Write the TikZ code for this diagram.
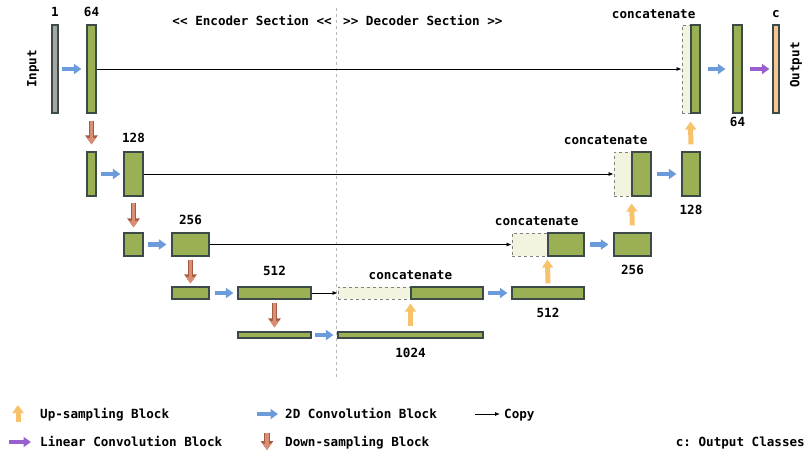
\documentclass[tikz,border=0pt]{standalone}
\usepackage{fontspec}
\setmonofont{DejaVu Sans Mono}
\usetikzlibrary{positioning, arrows.meta, calc}

\definecolor{blkgreen}{HTML}{9BB055}
\definecolor{blkedge}{HTML}{3C4A48}
\definecolor{ingray}{HTML}{A6A6A6}
\definecolor{outorange}{HTML}{F6C392}
\definecolor{catfill}{HTML}{F3F4E0}
\definecolor{convblue}{HTML}{6C9BDB}
\definecolor{upyellow}{HTML}{F6C36B}
\definecolor{downbrown}{HTML}{D98E76}
\definecolor{downedge}{HTML}{A65A42}
\definecolor{linpurple}{HTML}{9A5FCF}

\begin{document}
\begin{tikzpicture}[
    x=1pt, y=-1pt,
    font=\fontsize{12.6}{14}\selectfont\ttfamily\bfseries,
    block/.style={
        rectangle,
        draw=blkedge,
        fill=blkgreen,
        line width=1.2pt,
        inner sep=0pt
    },
    inblock/.style={block, fill=ingray},
    outblock/.style={block, fill=outorange},
    catblock/.style={ % copied half of a concatenation
        rectangle,
        draw=gray,
        dashed,
        fill=catfill,
        line width=0.9pt,
        inner sep=0pt
    },
    conv/.style={
        -{Triangle[length=7.5pt,width=10pt]},
        line width=4.8pt,
        convblue,
        shorten <=4pt,
        shorten >=4pt
    },
    linconv/.style={conv, linpurple},
    up/.style={
        -{Triangle[length=8pt,width=11pt]},
        line width=5pt,
        upyellow,
        shorten <=4pt,
        shorten >=4pt
    },
    down/.style={ % outlined arrow
        -{Triangle[length=6.5pt,width=9pt]},
        line width=3.6pt,
        downbrown,
        preaction={
            draw=downedge,
            line width=5.6pt,
            -{Triangle[length=9pt,width=12pt]}
        },
        shorten <=3pt,
        shorten >=3pt
    },
    copy/.style={
        -{Latex[length=5pt,width=4pt]},
        line width=0.8pt,
        black
    },
    lbl/.style={inner sep=0pt}
]
    \useasboundingbox (0,0) rectangle (808,451);

    % Section headings and divider
    \node[lbl, anchor=base east] (enc) at (332,25) {<< Encoder Section <<};
    \node[lbl, anchor=base west] (dec) at (343,25) {>> Decoder Section >>};
    \draw[gray!55, dashed, line width=0.8pt] (336,8) -- (336,380);

    % Encoder, 1st level
    \node[inblock, minimum width=6, minimum height=88] (inp) at (55,69) {};
    \node[block, minimum width=9, minimum height=88] (e1b) at (91.5,69) {};
    \draw[conv, shorten <=3pt, shorten >=5pt] (inp) -- (e1b);
    \node[lbl, anchor=base] (l1) at ($(inp.north)+(0,-7.5)$) {1};
    \node[lbl, anchor=base] (l64a) at ($(e1b.north)+(0,-7.5)$) {64};
    \node[lbl, rotate=90] (inpt) at (33,69) {Input};

    % Encoder, 2nd level
    \node[block, minimum width=9, minimum height=44] (e2a) at (91.5,174) {};
    \node[block, minimum width=19, minimum height=44] (e2b) at (133.5,174) {};
    \draw[down, shorten <=7pt, shorten >=7pt] (e1b) -- (e2a);
    \draw[conv, shorten >=3pt] (e2a) -- (e2b);
    \node[lbl, anchor=base] (l128a) at ($(e2b.north)+(0,-8.5)$) {128};

    % Encoder, 3rd level
    \node[block, minimum width=19, minimum height=23] (e3a) at (133.5,244.5) {};
    \node[block, minimum width=37, minimum height=23] (e3b) at (190.5,244.5) {};
    \draw[down, shorten <=6pt, shorten >=5pt] (e2b) -- (e3a);
    \draw[conv, shorten >=5pt] (e3a) -- (e3b);
    \node[lbl, anchor=base] (l256a) at ($(e3b.north)+(0,-7.5)$) {256};

    % Encoder, 4th level
    \node[block, minimum width=37, minimum height=12] (e4a) at (190.5,293) {};
    \node[block, minimum width=73, minimum height=12] (e4b) at (274.5,293) {};
    \draw[down] (e3b) -- (e4a);
    \draw[conv, shorten <=5pt] (e4a) -- (e4b);
    \node[lbl, anchor=base] (l512a) at ($(e4b.north)+(0,-11)$) {512};

    % Bottleneck
    \node[block, minimum width=73, minimum height=6] (e5a) at (274.5,335) {};
    \node[block, minimum width=145, minimum height=6] (e5b) at (410.5,335) {};
    \draw[down, shorten >=4pt] (e4b) -- (e5a);
    \draw[conv, shorten <=3pt] (e5a) -- (e5b);
    \node[lbl, anchor=base] (l1024) at ($(e5b.south)+(0,19)$) {1024};

    % Decoder, 4th level
    \node[catblock, minimum width=73, minimum height=12] (d4c) at (374.5,293) {};
    \node[block, minimum width=72, minimum height=12] (d4u) at (447,293) {};
    \node[block, minimum width=72, minimum height=12] (d4b) at (548,293) {};
    \draw[up, shorten <=5pt] (e5b.north) -- (e5b.north |- d4u.south);
    \draw[conv] (d4u) -- (d4b);
    \draw[copy] (e4b) -- (d4c);
    \node[lbl, anchor=base] (cat4) at ($(d4u.north west)+(0,-7)$) {concatenate};
    \node[lbl, anchor=base] (l512b) at ($(d4b.south)+(0,18)$) {512};

    % Decoder, 3rd level
    \node[catblock, minimum width=36, minimum height=23] (d3c) at (530,244.5) {};
    \node[block, minimum width=36, minimum height=23] (d3u) at (566,244.5) {};
    \node[block, minimum width=37, minimum height=23] (d3b) at (632.5,244.5) {};
    \draw[up, shorten <=3pt, shorten >=3pt] (d4b.north) -- (d3u.south west);
    \draw[conv, shorten <=5pt, shorten >=5pt] (d3u) -- (d3b);
    \draw[copy] (e3b) -- (d3c);
    \node[lbl, anchor=base east] (cat3) at ($(d3u.north east)+(-6,-7)$) {concatenate};
    \node[lbl, anchor=base] (l256b) at ($(d3b.south)+(0,18)$) {256};

    % Decoder, 2nd level
    \node[catblock, minimum width=18, minimum height=44] (d2c) at (623,174) {};
    \node[block, minimum width=19, minimum height=44] (d2u) at (641.5,174) {};
    \node[block, minimum width=18, minimum height=44] (d2b) at (691,174) {};
    \draw[up, shorten <=7pt, shorten >=7pt] (d3b.north) -- (d2u.south west);
    \draw[conv, shorten <=5pt, shorten >=5pt] (d2u) -- (d2b);
    \draw[copy] (e2b) -- (d2c);
    \node[lbl, anchor=base east] (cat2) at ($(d2u.north east)+(-4,-6.5)$) {concatenate};
    \node[lbl, anchor=base] (l128b) at ($(d2b.south)+(0,18)$) {128};

    % Decoder, 1st level
    \node[catblock, minimum width=9, minimum height=88] (d1c) at (686.5,69) {};
    \node[block, minimum width=9, minimum height=88] (d1u) at (695.5,69) {};
    \node[block, minimum width=9, minimum height=88] (d1b) at (737.5,69) {};
    \node[outblock, minimum width=6, minimum height=88] (out) at (776,69) {};
    \draw[up, shorten <=7pt, shorten >=8pt] (d2b.north) -- (d1u.south west);
    \draw[conv, shorten <=7pt, shorten >=7pt] (d1u) -- (d1b);
    \draw[linconv, shorten <=7pt, shorten >=3pt] (d1b) -- (out);
    \draw[copy] (e1b) -- (d1c);
    \node[lbl, anchor=base east] (cat1) at ($(d1u.north east)+(-5,-6)$) {concatenate};
    \node[lbl, anchor=base] (l64b) at ($(d1b.south)+(0,13)$) {64};
    \node[lbl, anchor=base] (lc) at ($(out.north)+(0,-7)$) {c};
    \node[lbl, rotate=90] (outt) at (796,65) {Output};

    % Legend
    \node[lbl, anchor=base west] (lgup) at (40,418) {Up-sampling Block};
    \node[lbl, anchor=base west] (lgconv) at (285,418) {2D Convolution Block};
    \node[lbl, anchor=base west] (lgcopy) at (504,418) {Copy};
    \node[lbl, anchor=base west] (lglin) at (40,446) {Linear Convolution Block};
    \node[lbl, anchor=base west] (lgdown) at (285,446) {Down-sampling Block};
    \node[lbl, anchor=base east] (lgcls) at (805,446) {c: Output Classes};
    \draw[up, shorten <=0pt, shorten >=0pt] ($(lgup.base west)+(-22,4)$) -- ++(0,-17);
    \draw[conv, shorten <=0pt, shorten >=0pt] ($(lgconv.base west)+(-28,-4)$) -- ++(21,0);
    \draw[copy] ($(lgcopy.base west)+(-29,-4)$) -- ++(25,0);
    \draw[linconv, shorten <=0pt, shorten >=0pt] ($(lglin.base west)+(-31,-4)$) -- ++(22,0);
    \draw[down, shorten <=0pt, shorten >=0pt] ($(lgdown.base west)+(-18,-13)$) -- ++(0,17);

\end{tikzpicture}
\end{document}
